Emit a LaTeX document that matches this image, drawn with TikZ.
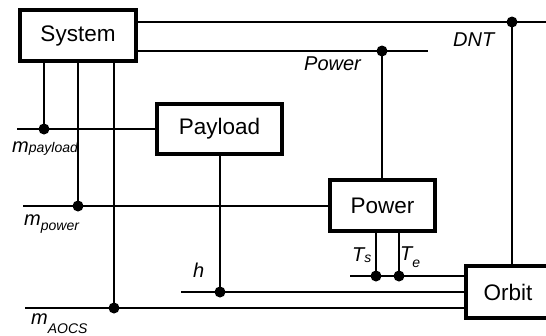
\documentclass[tikz,border=0pt]{standalone}
\usepackage{fontspec}
\setmainfont{Liberation Sans}
\newcommand{\subt}[2]{\raisebox{#1}{\fontsize{14}{14}\selectfont\itshape #2}}
\begin{document}
\begin{tikzpicture}[x=1pt,y=-1pt,
  blk/.style={draw,line width=4.5pt,fill=white,inner sep=0pt,font=\fontsize{22.5}{22.5}\selectfont},
  wire/.style={line width=1.6pt},
  jdot/.style={circle,fill=black,inner sep=0pt,minimum size=11pt},
  lbl/.style={inner sep=0pt,anchor=base west,font=\fontsize{20}{20}\selectfont\itshape}]
\useasboundingbox (0,0) rectangle (546,335);
\begin{scope}
\clip (0,0) rectangle (546,335);
% coordinates
\coordinate (eDNT) at (546,22);
\coordinate (ePow) at (428,51);
\coordinate (eMp) at (17,129);
\coordinate (eMw) at (23,206);
\coordinate (eMa) at (25,308);
\coordinate (eH) at (181,292);
\coordinate (eT) at (350,276);
% junctions
\coordinate (jDNT) at (512,22);
\coordinate (jPow) at (382,51);
\coordinate (jMp) at (44,129);
\coordinate (jMw) at (78,206);
\coordinate (jMa) at (114,308);
\coordinate (jH) at (220,292);
\coordinate (jTs) at (376,276);
\coordinate (jTe) at (399,276);
% boxes
\node[blk,minimum width=116pt,minimum height=51pt] (sys) at (78,35.5) {System};
\node[blk,minimum width=125pt,minimum height=50pt] (pay) at (219.5,129) {Payload};
\node[blk,minimum width=105pt,minimum height=51pt] (pow) at (382.5,205.5) {Power};
\node[blk,minimum width=84pt,minimum height=52pt] (orb) at (508,292) {Orbit};
% wires
\draw[wire] (sys.east |- eDNT) -- (eDNT);
\draw[wire] (jDNT) -- (jDNT |- orb.north);
\draw[wire] (sys.east |- ePow) -- (ePow);
\draw[wire] (jPow) -- (jPow |- pow.north);
\draw[wire] (sys.south -| jMp) -- (jMp);
\draw[wire] (eMp) -- (eMp -| pay.west);
\draw[wire] (sys.south -| jMw) -- (jMw);
\draw[wire] (eMw) -- (eMw -| pow.west);
\draw[wire] (sys.south -| jMa) -- (jMa);
\draw[wire] (eMa) -- (eMa -| orb.west);
\draw[wire] (pay.south -| jH) -- (jH);
\draw[wire] (eH) -- (eH -| orb.west);
\draw[wire] (pow.south -| jTs) -- (jTs);
\draw[wire] (pow.south -| jTe) -- (jTe);
\draw[wire] (eT) -- (eT -| orb.west);
% redraw boxes on top
\node[blk,minimum width=116pt,minimum height=51pt] at (sys) {System};
\node[blk,minimum width=125pt,minimum height=50pt] at (pay) {Payload};
\node[blk,minimum width=105pt,minimum height=51pt] at (pow) {Power};
\node[blk,minimum width=84pt,minimum height=52pt] at (orb) {Orbit};
% dots
\foreach \c in {jDNT,jPow,jMp,jMw,jMa,jH,jTs,jTe} \node[jdot] at (\c) {};
\end{scope}
% labels
\node[lbl] (lDNT) at (453,46) {DNT};
\node[lbl] (lPow) at (304,70) {Power};
\node[lbl] (lmp) at (12,152) {m\subt{0pt}{payload}};
\node[lbl] (lmw) at (24,225) {m\subt{-5pt}{power}};
\node[lbl] (lma) at (31,324) {m\subt{-9pt}{AOCS}};
\node[lbl] (lh) at (193,277) {h};
\node[lbl] (lTs) at (352,261) {T\subt{-1pt}{s}};
\node[lbl] (lTe) at (400,260) {T\subt{-7pt}{e}};
\end{tikzpicture}
\end{document}
